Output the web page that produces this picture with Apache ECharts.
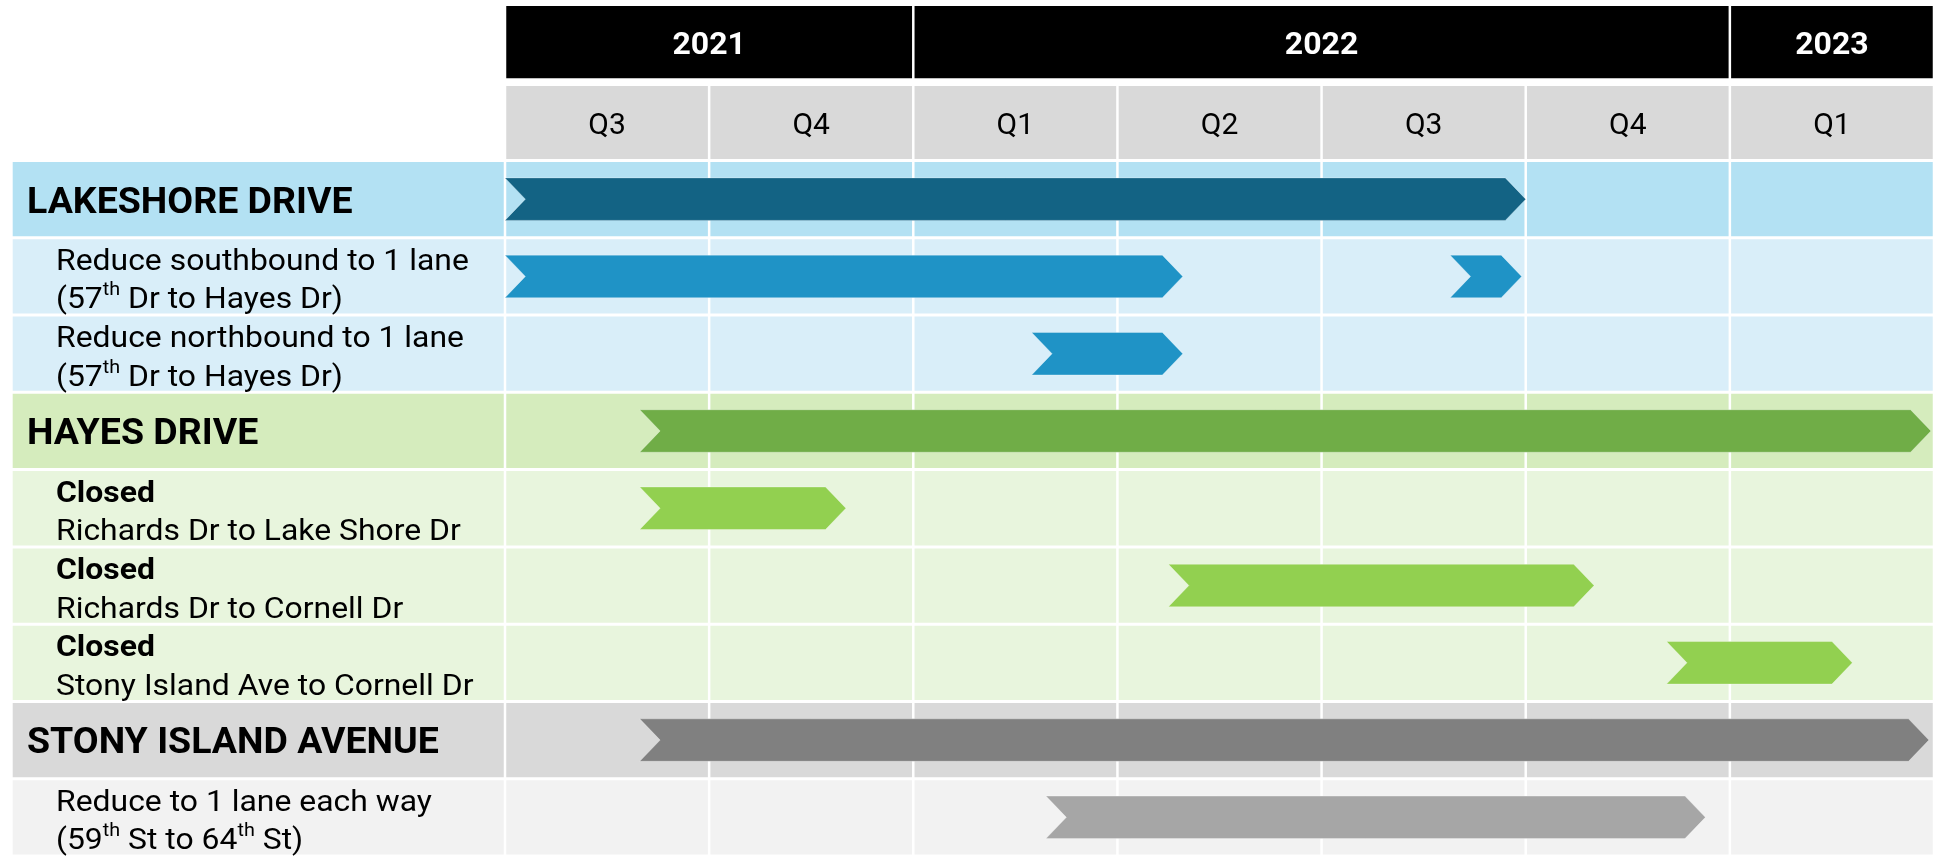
<!DOCTYPE html>
<html>
<head>
<meta charset="utf-8">
<script src="https://cdn.jsdelivr.net/npm/echarts@6/dist/echarts.min.js"></script>
<style>
html,body{margin:0;padding:0;background:#ffffff;}
#c{width:1934px;height:856px;}
</style>
</head>
<body>
<div id="c"></div>
<script>
// ---------------- DATA ----------------
const years = ['2021', '2022', '2023'];
const yearStart = [0, 2, 6];      // in quarter units
const yearEnd = [2, 6, 7];
const quarters = ['Q3', 'Q4', 'Q1', 'Q2', 'Q3', 'Q4', 'Q1'];

const rowLabels = [
  'LAKESHORE DRIVE',
  'Reduce southbound to 1 lane\n(57{sup|th} Dr to Hayes Dr)',
  'Reduce northbound to 1 lane\n(57{sup|th} Dr to Hayes Dr)',
  'HAYES DRIVE',
  '{b|Closed}\nRichards Dr to Lake Shore Dr',
  '{b|Closed}\nRichards Dr to Cornell Dr',
  '{b|Closed}\nStony Island Ave to Cornell Dr',
  'STONY ISLAND AVENUE',
  'Reduce to 1 lane each way\n(59{sup|th} St to 64{sup|th} St)'
];
const rowLevel = ['main', 'sub', 'sub', 'main', 'sub', 'sub', 'sub', 'main', 'sub'];
const rowGroup = ['lake', 'lake', 'lake', 'hayes', 'hayes', 'hayes', 'hayes', 'stony', 'stony'];

// bars (start / end in quarter units from Q3 2021)
const barRow   = [0,    1,    1,    2,    3,     4,    5,     6,    7,     8];
const barStart = [0,    0,    4.63, 2.58, 0.66,  0.66, 3.25,  5.69, 0.66,  2.65];
const barEnd   = [5,    3.32, 4.98, 3.32, 6.985, 1.67, 5.335, 6.6,  6.975, 5.88];

// ---------------- STYLE ----------------
const palette = {
  lake:  { main: { bg: '#b3e1f3', bar: '#136384' }, sub: { bg: '#d9eef9', bar: '#1f93c6' } },
  hayes: { main: { bg: '#d5ecbd', bar: '#70ad47' }, sub: { bg: '#e8f5dd', bar: '#92d050' } },
  stony: { main: { bg: '#d9d9d9', bar: '#808080' }, sub: { bg: '#f2f2f2', bar: '#a6a6a6' } }
};
const FONT = 'Roboto';
const GAP = 2.5;        // white separators between cells
const ROW_GAP = 3;
const LABEL_LEFT = 12.7;
const MAIN_INDENT = 27;
const SUB_INDENT = 56;
const MAIN_DY = 4;
const SUB_DY = 5.5;
const HEAD_DY = 3.5;
const SUB_SCALE_X = 1.1;

const chart = echarts.init(document.getElementById('c'), null, { renderer: 'canvas', width: 1934, height: 856 });

const gridLeft = 505, gridWidth = 1431.5;

function headerRender(labels, fill, textStyle) {
  return function (params, api) {
    const s = api.value(0), e = api.value(1);
    const a = api.coord([s, 1]);
    const b = api.coord([e, 0]);
    const x1 = a[0] + GAP / 2, x2 = b[0] - GAP / 2;
    return {
      type: 'group',
      children: [
        { type: 'rect', shape: { x: x1, y: a[1], width: x2 - x1, height: b[1] - a[1] }, style: { fill: fill } },
        { type: 'text', style: Object.assign({
            text: labels[params.dataIndex], x: (x1 + x2) / 2, y: (a[1] + b[1]) / 2 + HEAD_DY,
            align: 'center', verticalAlign: 'middle', fontFamily: FONT }, textStyle) }
      ]
    };
  };
}

const subRich = {
  sup: { fontSize: 18, fontFamily: FONT, fontWeight: 'normal', fill: '#000', lineHeight: 28, verticalAlign: 'top' },
  b: { fontSize: 29, fontFamily: FONT, fontWeight: 'bold', fill: '#000', lineHeight: 38.5 }
};

function rowRender(params, api) {
  const row = api.value(1);
  const c0 = api.coord([0, row]);
  const bandH = api.size([0, 1])[1];
  const h = bandH - ROW_GAP;
  const top = c0[1] - h / 2;
  const lvl = rowLevel[row];
  const col = palette[rowGroup[row]][lvl];
  const children = [];
  children.push({ type: 'rect', shape: { x: LABEL_LEFT, y: top, width: c0[0] - GAP / 2 - LABEL_LEFT, height: h }, style: { fill: col.bg } });
  for (let q = 0; q < quarters.length; q++) {
    const a = api.coord([q, row])[0] + GAP / 2;
    const b = api.coord([q + 1, row])[0] - GAP / 2;
    children.push({ type: 'rect', shape: { x: a, y: top, width: b - a, height: h }, style: { fill: col.bg } });
  }
  if (lvl === 'main') {
    children.push({ type: 'text', x: MAIN_INDENT, y: c0[1] + MAIN_DY, style: {
      text: rowLabels[row], x: 0, y: 0, align: 'left', verticalAlign: 'middle',
      fontFamily: FONT, fontSize: 37.5, fontWeight: 'bold', fill: '#000' } });
  } else {
    children.push({ type: 'text', x: SUB_INDENT, y: c0[1] + SUB_DY, scaleX: SUB_SCALE_X, style: {
      text: rowLabels[row], x: 0, y: 0, align: 'left', verticalAlign: 'middle',
      fontFamily: FONT, fontSize: 29, fontWeight: 'normal', fill: '#000', lineHeight: 38.5, rich: subRich } });
  }
  return { type: 'group', children: children };
}

function barRender(params, api) {
  const s = api.value(0), e = api.value(1), r = api.value(2);
  const p1 = api.coord([s, r]);
  const p2 = api.coord([e, r]);
  const h = api.size([0, 1])[1] * 0.55;
  const d = h * 0.48;
  const y = p1[1];
  const col = palette[rowGroup[r]][rowLevel[r]].bar;
  return {
    type: 'polygon',
    shape: { points: [
      [p1[0], y - h / 2], [p2[0] - d, y - h / 2], [p2[0], y],
      [p2[0] - d, y + h / 2], [p1[0], y + h / 2], [p1[0] + d, y]
    ] },
    style: { fill: col, stroke: 'rgba(255,255,255,0.3)', lineWidth: 1 }
  };
}

const option = {
  animation: false,
  backgroundColor: '#ffffff',
  grid: [
    { left: gridLeft, width: gridWidth, top: 6, height: 72.3 },
    { left: gridLeft, width: gridWidth, top: 86, height: 73 },
    { left: gridLeft, width: gridWidth, top: 160.5, height: 699.75 }
  ],
  xAxis: [0, 1, 2].map(i => ({ type: 'value', gridIndex: i, min: 0, max: quarters.length, interval: 1, show: false })),
  yAxis: [
    { type: 'value', gridIndex: 0, min: 0, max: 1, show: false },
    { type: 'value', gridIndex: 1, min: 0, max: 1, show: false },
    { type: 'category', gridIndex: 2, data: rowLabels, inverse: true, show: false }
  ],
  series: [
    {
      type: 'custom', xAxisIndex: 0, yAxisIndex: 0, silent: true,
      data: years.map((y, i) => [yearStart[i], yearEnd[i]]),
      encode: { x: [0, 1] },
      renderItem: headerRender(years, '#000000', { fill: '#ffffff', fontSize: 32, fontWeight: 'bold' })
    },
    {
      type: 'custom', xAxisIndex: 1, yAxisIndex: 1, silent: true,
      data: quarters.map((q, i) => [i, i + 1]),
      encode: { x: [0, 1] },
      renderItem: headerRender(quarters, '#d9d9d9', { fill: '#000000', fontSize: 30, fontWeight: 'normal' })
    },
    {
      type: 'custom', xAxisIndex: 2, yAxisIndex: 2, silent: true, z: 1,
      data: rowLabels.map((l, i) => [0, i]),
      encode: { x: 0, y: 1 },
      renderItem: rowRender
    },
    {
      type: 'custom', xAxisIndex: 2, yAxisIndex: 2, silent: true, z: 3,
      data: barRow.map((r, i) => [barStart[i], barEnd[i], r]),
      encode: { x: [0, 1], y: 2 },
      renderItem: barRender
    }
  ]
};
chart.setOption(option);
</script>
</body>
</html>
